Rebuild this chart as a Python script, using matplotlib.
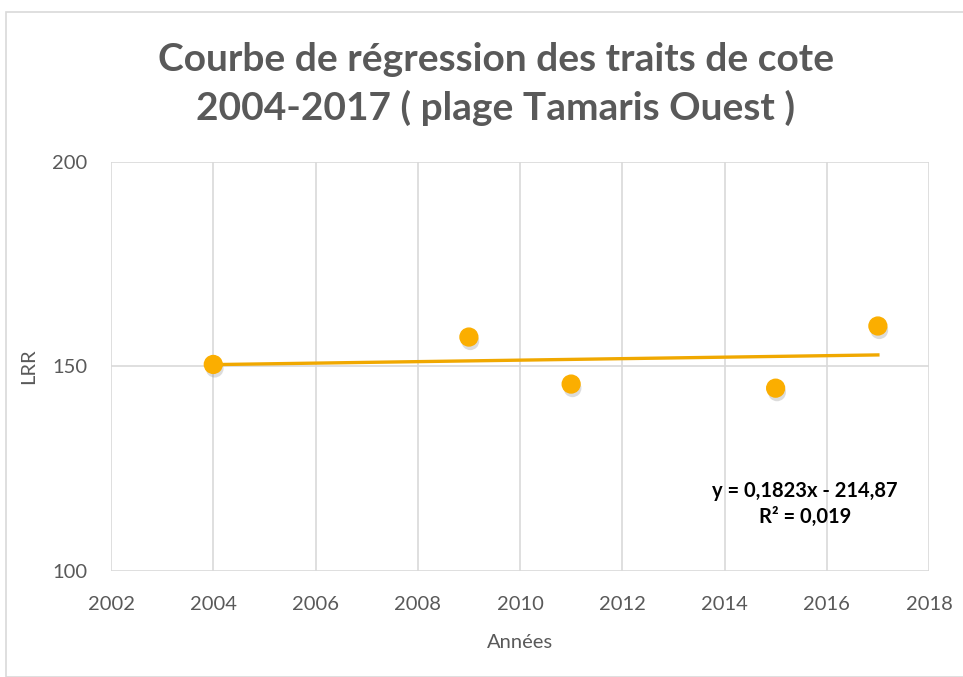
import numpy as np
import matplotlib
matplotlib.use("Agg")
import matplotlib.pyplot as plt
import matplotlib.patheffects as pe
from matplotlib.patches import Rectangle

plt.rcParams['font.family'] = ['Lato', 'DejaVu Sans']

# ---------- Data ----------
years = [2004, 2009, 2011, 2015, 2017]
lrr = [150.5, 157.2, 145.7, 144.7, 159.9]
slope = 0.1823
intercept = -214.87
r2_label = "R² = 0,019"
eq_label = "y = 0,1823x - 214,87"
x_ticks = [2002, 2004, 2006, 2008, 2010, 2012, 2014, 2016, 2018]
y_ticks = [100, 150, 200]

grey_txt = "#595959"
orange = "#FBAE00"
trend_col = "#F0A800"

# ---------- Figure ----------
fig = plt.figure(figsize=(9.63, 6.77), dpi=100)
fig.patches.append(Rectangle((6 / 963, 0), 1.2, 1 - 12 / 677, transform=fig.transFigure,
                             fill=False, edgecolor="#d9d9d9", linewidth=1.2))

ax = fig.add_axes([0.1153, 0.1566, 0.8494, 0.6041])
ax.set_xlim(2002, 2018)
ax.set_ylim(100, 200)
ax.set_xticks(x_ticks)
ax.set_yticks(y_ticks)
ax.grid(True, color="#d9d9d9", linewidth=1.2)
ax.set_axisbelow(True)
for s in ax.spines.values():
    s.set_visible(False)
ax.tick_params(length=0, labelsize=14.5, labelcolor=grey_txt)
ax.tick_params(axis="x", pad=18)
ax.tick_params(axis="y", pad=17)

# trend line
tx = np.array([years[0], years[-1]])
ax.plot(tx, slope * tx + intercept, color=trend_col, linewidth=2.4, zorder=3)

# points
ax.scatter(years, lrr, s=165, color=orange, zorder=4,
           path_effects=[pe.SimplePatchShadow(offset=(1, -3), shadow_rgbFace="#777777", alpha=0.25),
                         pe.Normal()])

ax.text(2015.57, 116.4, eq_label + "\n" + r2_label, ha="center", va="center",
        fontsize=14.5, fontweight="bold", color="black", linespacing=1.4)

ax.set_xlabel("Années", fontsize=14.5, color=grey_txt, labelpad=15)
ax.set_ylabel("LRR", fontsize=14.5, color=grey_txt, labelpad=11)

fig.text(0.515, 1 - 84 / 677, "Courbe de régression des traits de cote\n2004-2017 ( plage Tamaris Ouest )",
         ha="center", va="center", fontsize=28, fontweight="bold", color=grey_txt, linespacing=1.4)

fig.savefig("out.png", dpi=100)
